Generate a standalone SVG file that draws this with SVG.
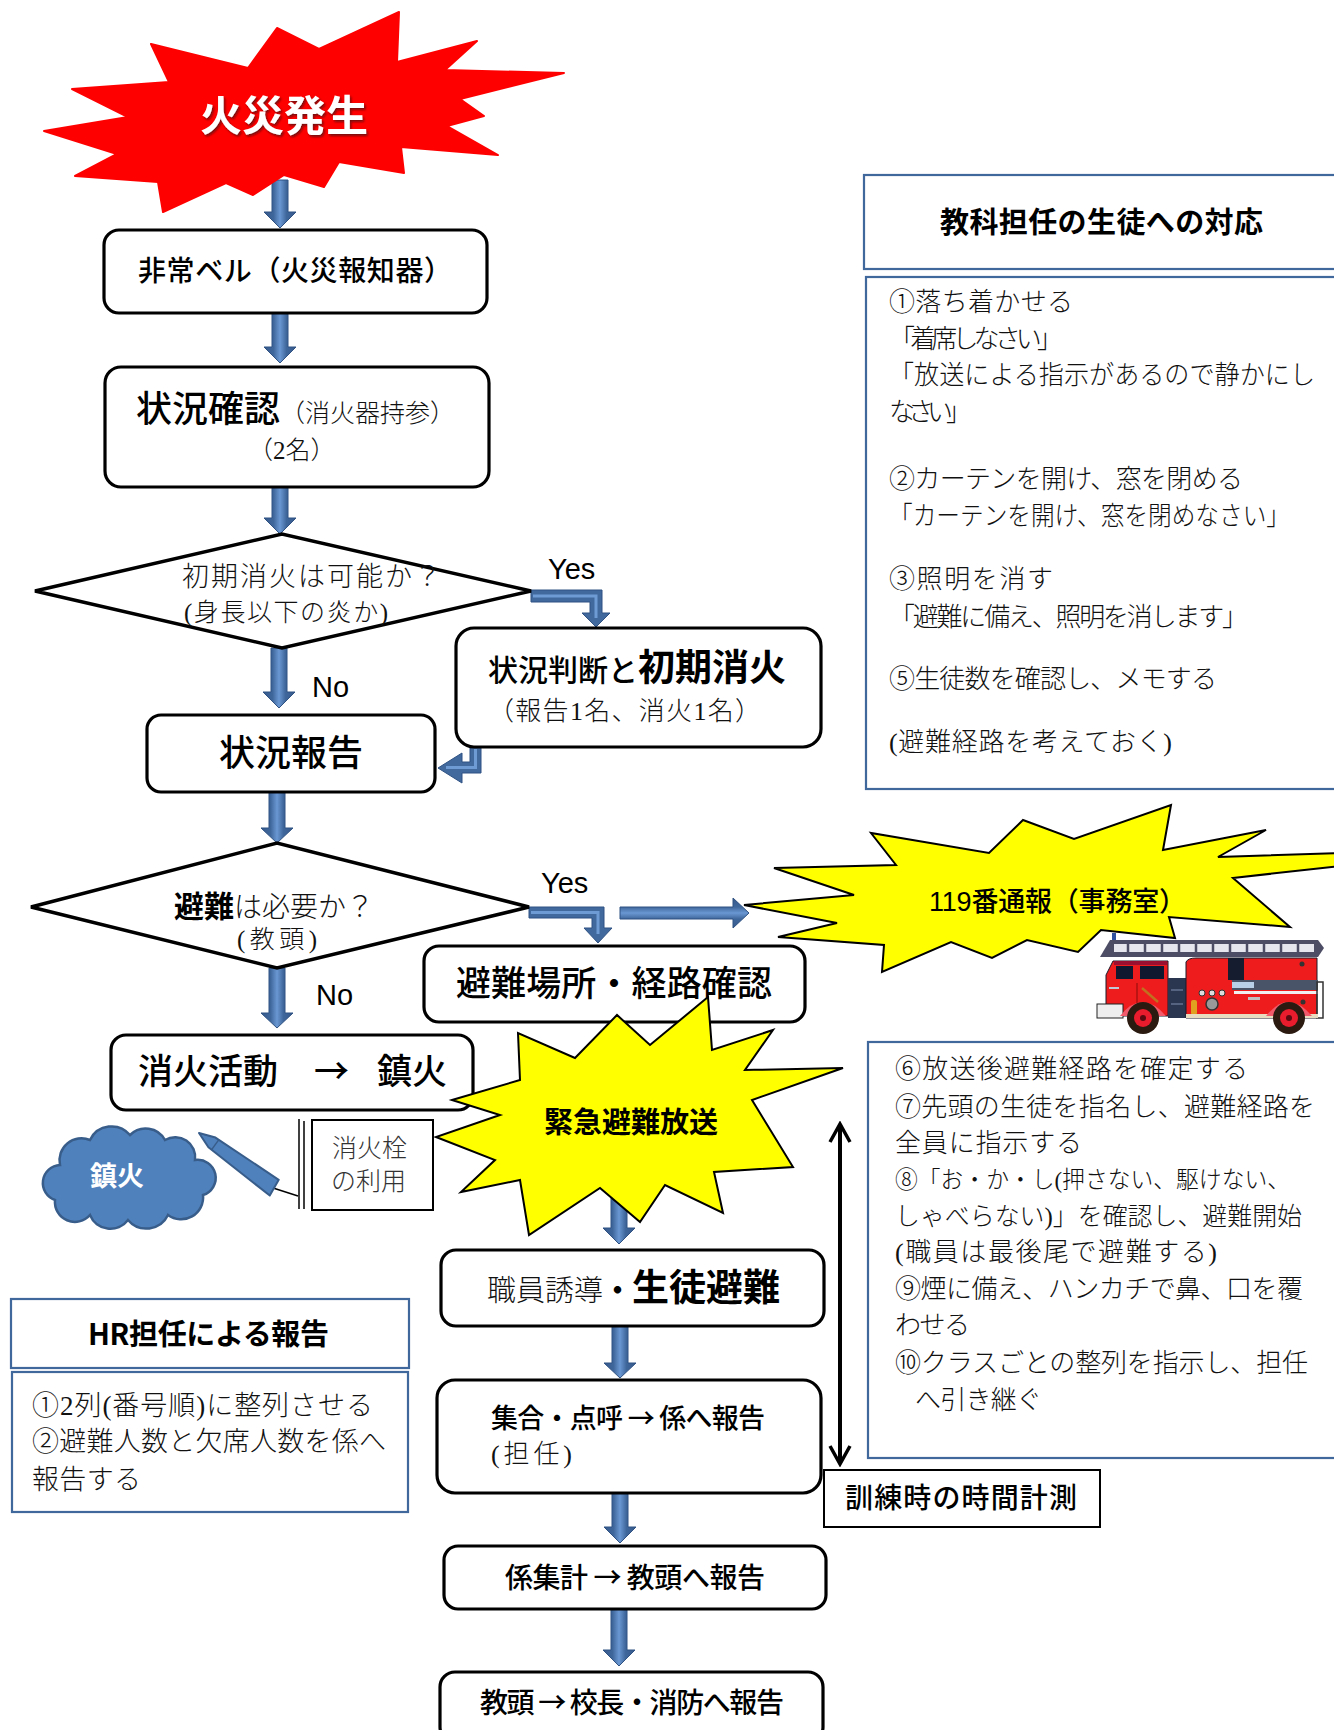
<svg xmlns="http://www.w3.org/2000/svg" width="1334" height="1730" viewBox="0 0 1334 1730">
  <defs>
    <linearGradient id="blk" x1="0" y1="0" x2="1" y2="0">
      <stop offset="0" stop-color="#37598A"/>
      <stop offset="0.3" stop-color="#3F679C"/>
      <stop offset="0.5" stop-color="#6A97D2"/>
      <stop offset="0.7" stop-color="#3F679C"/>
      <stop offset="1" stop-color="#37598A"/>
    </linearGradient>
    <linearGradient id="blkh" x1="0" y1="0" x2="0" y2="1">
      <stop offset="0" stop-color="#37598A"/>
      <stop offset="0.3" stop-color="#3F679C"/>
      <stop offset="0.5" stop-color="#6A97D2"/>
      <stop offset="0.7" stop-color="#3F679C"/>
      <stop offset="1" stop-color="#37598A"/>
    </linearGradient>
    <filter id="shadow" x="-10%" y="-10%" width="130%" height="140%">
      <feDropShadow dx="1.5" dy="2" stdDeviation="1" flood-color="#5a1010" flood-opacity="0.8"/>
    </filter>
    <marker id="vhead" viewBox="0 0 24 24" refX="21" refY="12" markerWidth="24" markerHeight="24" orient="auto-start-reverse" markerUnits="userSpaceOnUse">
      <path d="M3,2 L21,12 L3,22" fill="none" stroke="#000" stroke-width="3.5"/>
    </marker>
  </defs>
  <style>
    .box { fill: #fff; stroke: #000; stroke-width: 3.2; }
    .sq { fill: #fff; stroke: #000; stroke-width: 2; }
    .dia { fill: #fff; stroke: #000; stroke-width: 3.5; stroke-linejoin: miter; }
    .pnl { fill: #fff; stroke: #41689C; stroke-width: 2.2; }
    .ba { fill: url(#blk); stroke: #2F5283; stroke-width: 1; }
    .bah { fill: url(#blkh); stroke: #2F5283; stroke-width: 1; }
    .elb { fill: #41699E; stroke: #2F5283; stroke-width: 1; }
    .stripe { fill: none; stroke: #6F9BD4; stroke-width: 3; }
    .g { font-family: "Noto Sans CJK JP", sans-serif; font-weight: 500; fill: #000; }
    .gb { font-family: "Noto Sans CJK JP", sans-serif; font-weight: 700; fill: #000; }
    .m { font-family: "Liberation Serif", "Noto Sans CJK JP", serif; font-weight: 300; fill: #111; }
    .lat { font-family: "Liberation Sans", Arial, sans-serif; fill: #000; }
    .c { text-anchor: middle; }
  </style>

  <!-- connectors: block arrows and the timing arrow -->
  <g id="connectors">
    <polygon class="ba" points="272,180 288,180 288,212 296,212 280,228 264,212 272,212"/>
    <polygon class="ba" points="272,313 288,313 288,347 296,347 280,363 264,347 272,347"/>
    <polygon class="ba" points="272,487 288,487 288,518 296,518 280,534 264,518 272,518"/>
    <polygon class="ba" points="271,648 287,648 287,692 295,692 279,708 263,692 271,692"/>
    <polygon class="ba" points="269,792 285,792 285,828 293,828 277,843 261,828 269,828"/>
    <polygon class="ba" points="269,968 285,968 285,1013 293,1013 277,1028 261,1013 269,1013"/>
    <polygon class="ba" points="611,1180 627,1180 627,1228 635,1228 619,1244 603,1228 611,1228"/>
    <polygon class="ba" points="612,1326 628,1326 628,1363 636,1363 620,1378 604,1363 612,1363"/>
    <polygon class="ba" points="612,1493 628,1493 628,1527 636,1527 620,1543 604,1527 612,1527"/>
    <polygon class="ba" points="611,1609 627,1609 627,1650 635,1650 619,1666 603,1650 611,1650"/>

    <!-- Yes branch of the first decision -->
    <polygon class="elb" points="531,590 602,590 602,613 610,613 596,627 582,613 590,613 590,602 531,602"/>
    <polyline class="stripe" points="533,596 596,596 596,618"/>
    <!-- back from initial extinguishing to status report -->
    <polygon class="elb" points="470,747 481,747 481,773 462,773 462,783 438,768 462,753 462,762 470,762"/>
    <polyline class="stripe" points="475.5,749 475.5,767.5 446,767.5"/>
    <!-- Yes branch of the evacuation decision -->
    <polygon class="elb" points="529,907 604,907 604,928 612,928 598,943 584,928 592,928 592,918 529,918"/>
    <polyline class="stripe" points="531,912.5 598,912.5 598,934"/>
    <polygon class="bah" points="620,907 733,907 733,898 749,913 733,928 733,919 620,919"/>

    <!-- drill timing span -->
    <line x1="840" y1="1124" x2="840" y2="1464" stroke="#000" stroke-width="4" marker-start="url(#vhead)" marker-end="url(#vhead)"/>
  </g>

  <!-- fire outbreak burst -->
  <g id="fire-start">
    <polygon fill="#FF0000" stroke="#FF0000" stroke-width="2" stroke-linejoin="round" points="399,12 397,62 477,41 445,70 564,73 460,99 484,116 447,126 498,155 401,147 404,173 339,162 324,187 284,175 253,195 226,183 163,212 158,182 75,176 117,154 44,131 128,117 72,89 169,82 151,44 248,68 277,28 319,49"/>
    <text class="gb c" x="284" y="131" font-size="42" font-weight="900" style="fill:#fff" filter="url(#shadow)" textLength="168">火災発生</text>
  </g>

  <g id="alarm">
    <rect class="box" x="104" y="230" width="383" height="83" rx="15"/>
    <text class="g" x="138" y="281" font-size="28" textLength="314">非常ベル（火災報知器）</text>
  </g>

  <g id="check">
    <rect class="box" x="105" y="367" width="384" height="120" rx="16"/>
    <text x="136" y="422"><tspan class="g" font-size="36">状況確認</tspan><tspan class="m" font-size="25">（消火器持参）</tspan></text>
    <text class="m" x="248" y="459" font-size="25">（2名）</text>
  </g>

  <g id="decide-extinguish">
    <polygon class="dia" points="35,591 282,534 531,591 282,648"/>
    <text class="m" x="182" y="586" font-size="27" textLength="259">初期消火は可能か？</text>
    <text class="m" x="184" y="621" font-size="25" textLength="204">(身長以下の炎か)</text>
  </g>
  <text class="lat" x="548" y="579" font-size="29">Yes</text>
  <text class="lat" x="312" y="697" font-size="29">No</text>

  <g id="initial-extinguish">
    <rect class="box" x="456" y="628" width="365" height="119" rx="18"/>
    <text x="488" y="681"><tspan class="g" font-size="30">状況判断と</tspan><tspan class="gb" font-size="37">初期消火</tspan></text>
    <text class="m" x="488" y="720" font-size="26" textLength="273">（報告1名、消火1名）</text>
  </g>

  <g id="report">
    <rect class="box" x="147" y="715" width="288" height="77" rx="14"/>
    <text class="g c" x="291" y="766" font-size="36">状況報告</text>
  </g>

  <g id="decide-evacuate">
    <polygon class="dia" points="31,907 277,843 529,907 277,968"/>
    <text x="174" y="917"><tspan class="gb" font-size="30">避難</tspan><tspan class="m" font-size="28">は必要か？</tspan></text>
    <text class="m" x="237" y="948" font-size="25" textLength="80">(教頭)</text>
  </g>
  <text class="lat" x="541" y="893" font-size="29">Yes</text>
  <text class="lat" x="316" y="1005" font-size="29">No</text>

  <g id="route-check">
    <rect class="box" x="424" y="946" width="381" height="76" rx="15"/>
    <text class="g" x="456" y="996" font-size="35" textLength="316">避難場所・経路確認</text>
  </g>

  <g id="call-119">
    <polygon fill="#FFFF00" stroke="#000" stroke-width="2" points="1023,820 1074,839 1171,805 1163,850 1266,830 1218,857 1340,853 1340,866 1233,878 1290,927 1169,917 1175,938 1101,930 1078,952 1027,940 992,958 951,942 882,972 884,945 778,937 837,923 744,905 854,895 774,868 896,865 871,833 989,853"/>
    <text x="929" y="911" font-size="27" textLength="257"><tspan class="lat">119</tspan><tspan class="g">番通報（事務室）</tspan></text>
  </g>

  <g id="fire-engine">
    <!-- ladder -->
    <rect x="1112" y="933" width="4" height="8" fill="#3050a0"/>
    <polygon points="1100,957 1110,940 1318,940 1324,948 1318,957" fill="#4d4d66"/>
    <rect x="1114" y="944" width="200" height="8" fill="#e6e6ee"/>
    <g stroke="#4d4d66" stroke-width="2.5">
      <line x1="1128" y1="944" x2="1128" y2="952"/><line x1="1145" y1="944" x2="1145" y2="952"/>
      <line x1="1162" y1="944" x2="1162" y2="952"/><line x1="1179" y1="944" x2="1179" y2="952"/>
      <line x1="1196" y1="944" x2="1196" y2="952"/><line x1="1213" y1="944" x2="1213" y2="952"/>
      <line x1="1230" y1="944" x2="1230" y2="952"/><line x1="1247" y1="944" x2="1247" y2="952"/>
      <line x1="1264" y1="944" x2="1264" y2="952"/><line x1="1281" y1="944" x2="1281" y2="952"/>
      <line x1="1298" y1="944" x2="1298" y2="952"/>
    </g>
    <!-- cab -->
    <path d="M1106,1016 L1106,975 L1113,961 L1168,961 L1168,1016 Z" fill="#ee1c1c" stroke="#1b1b2a" stroke-width="1"/>
    <rect x="1114" y="961" width="53" height="4" fill="#9a1030"/>
    <rect x="1116" y="966" width="17" height="13" fill="#101830"/>
    <rect x="1140" y="966" width="24" height="13" fill="#101830"/>
    <line x1="1137" y1="983" x2="1137" y2="1012" stroke="#8a0a0a" stroke-width="1"/>
    <rect x="1109" y="987" width="10" height="2" fill="#c0c8d8"/>
    <line x1="1142" y1="988" x2="1158" y2="1002" stroke="#c07020" stroke-width="2.5"/>
    <!-- pump bay -->
    <rect x="1168" y="978" width="18" height="40" fill="#2a3550"/>
    <line x1="1171" y1="990" x2="1183" y2="990" stroke="#8090b0" stroke-width="1"/>
    <line x1="1171" y1="1004" x2="1183" y2="1004" stroke="#8090b0" stroke-width="1"/>
    <!-- rear body -->
    <path d="M1186,1018 L1186,962 Q1188,958 1196,958 L1317,958 L1317,1018 Z" fill="#ee1c1c" stroke="#1b1b2a" stroke-width="1"/>
    <rect x="1228" y="958" width="16" height="22" fill="#161c30"/>
    <rect x="1232" y="980" width="86" height="10" fill="#4a5468"/>
    <rect x="1232" y="982" width="22" height="6" fill="#b8d0e8"/>
    <rect x="1234" y="991" width="84" height="3" fill="#f0f0f0"/>
    <circle cx="1202" cy="993" r="3" fill="#ddd" stroke="#333" stroke-width="1"/>
    <circle cx="1212" cy="993" r="3" fill="#ddd" stroke="#333" stroke-width="1"/>
    <circle cx="1222" cy="993" r="3" fill="#ddd" stroke="#333" stroke-width="1"/>
    <circle cx="1212" cy="1004" r="6" fill="#999" stroke="#333" stroke-width="1.5"/>
    <rect x="1191" y="1000" width="6" height="15" rx="2" fill="#e0a020"/>
    <rect x="1248" y="997" width="12" height="3" fill="#c0c0c0"/>
    <circle cx="1302" cy="964" r="2.5" fill="#333"/>
    <circle cx="1303" cy="1002" r="2.5" fill="#333"/>
    <rect x="1317" y="982" width="6" height="36" fill="none" stroke="#333" stroke-width="1.5"/>
    <!-- chassis, bumper, wheels -->
    <rect x="1186" y="1014" width="132" height="4" fill="#e8dcc0"/>
    <rect x="1097" y="1004" width="26" height="14" fill="#eeeeee" stroke="#222" stroke-width="1"/>
    <path d="M1120,1016 Q1142,988 1166,1016 Z" fill="#f05a6a"/>
    <path d="M1266,1016 Q1288,988 1312,1016 Z" fill="#f05a6a"/>
    <circle cx="1143" cy="1018" r="16" fill="#2a1a10"/>
    <circle cx="1143" cy="1018" r="9" fill="#e81c2c"/>
    <circle cx="1143" cy="1018" r="3" fill="#5a0a10"/>
    <circle cx="1289" cy="1018" r="16" fill="#2a1a10"/>
    <circle cx="1289" cy="1018" r="9" fill="#e81c2c"/>
    <circle cx="1289" cy="1018" r="3" fill="#5a0a10"/>
  </g>

  <g id="teacher-response">
    <rect class="pnl" x="864" y="175" width="480" height="94"/>
    <text class="gb" x="940" y="233" font-size="29" textLength="323">教科担任の生徒への対応</text>
    <rect class="pnl" x="866" y="277" width="478" height="512"/>
    <g class="m" font-size="26">
      <text x="889" y="311" textLength="184">①落ち着かせる</text>
      <text x="889" y="348" textLength="174">「着席しなさい」</text>
      <text x="889" y="384" textLength="426" lengthAdjust="spacingAndGlyphs">「放送による指示があるので静かにし</text>
      <text x="889" y="421" textLength="83">なさい」</text>
      <text x="889" y="488" textLength="354">②カーテンを開け、窓を閉める</text>
      <text x="889" y="525" textLength="401" lengthAdjust="spacingAndGlyphs">「カーテンを開け、窓を閉めなさい」</text>
      <text x="889" y="588" textLength="164">③照明を消す</text>
      <text x="889" y="626" textLength="359">「避難に備え、照明を消します」</text>
      <text x="889" y="688" textLength="328">⑤生徒数を確認し、メモする</text>
      <text x="889" y="751" textLength="283">(避難経路を考えておく)</text>
    </g>
  </g>

  <g id="extinguish">
    <rect class="box" x="111" y="1035" width="362" height="75" rx="15"/>
    <text class="g" y="1084" font-size="35"><tspan x="138">消火活動</tspan><tspan x="314">→</tspan><tspan x="377">鎮火</tspan></text>
  </g>

  <g id="hydrant">
    <rect class="sq" x="312" y="1120" width="121" height="90"/>
    <text class="m" x="332" y="1157" font-size="25" style="fill:#333">消火栓</text>
    <text class="m" x="331" y="1190" font-size="25" style="fill:#333">の利用</text>
    <!-- hose and nozzle -->
    <line x1="299" y1="1119" x2="299" y2="1209" stroke="#000" stroke-width="1.5"/>
    <line x1="304" y1="1121" x2="304" y2="1209" stroke="#000" stroke-width="1.5"/>
    <line x1="270" y1="1187" x2="298" y2="1196" stroke="#000" stroke-width="1.5"/>
    <g transform="translate(199,1133) rotate(36)">
      <polygon points="0,0 16,-6 92,-9 94,9 16,6" fill="#4F81BD" stroke="#385D8A" stroke-width="2" stroke-linejoin="round"/>
      <line x1="20" y1="-6" x2="20" y2="6" stroke="#385D8A" stroke-width="1.5"/>
    </g>
  </g>

  <g id="extinguished">
    <path d="M60,1165 a22,22 0 0 1 30,-25 a24,24 0 0 1 40,-5 a22,22 0 0 1 35,5 a20,20 0 0 1 30,20 a18,18 0 0 1 8,35 a22,22 0 0 1 -35,20 a24,24 0 0 1 -40,5 a22,22 0 0 1 -38,-5 a20,20 0 0 1 -35,-15 a18,18 0 0 1 5,-35 Z" fill="#4F81BD" stroke="#385D8A" stroke-width="2.5"/>
    <text class="gb c" x="117" y="1186" font-size="27" style="fill:#fff">鎮火</text>
  </g>

  <g id="broadcast">
    <polygon fill="#FFFF00" stroke="#000" stroke-width="2" points="452,1100 520,1080 518,1033 575,1058 617,1015 650,1045 708,997 712,1050 773,1030 745,1070 843,1068 752,1100 793,1167 714,1172 723,1213 665,1185 640,1222 600,1188 529,1235 520,1180 461,1192 495,1160 436,1137 500,1115"/>
    <text class="gb c" x="631" y="1133" font-size="29">緊急避難放送</text>
  </g>

  <g id="guide-evacuate">
    <rect class="box" x="441" y="1250" width="383" height="76" rx="15"/>
    <text x="487" y="1301"><tspan class="m" font-size="29">職員誘導</tspan><tspan class="gb" font-size="29">・</tspan><tspan class="gb" font-size="37">生徒避難</tspan></text>
  </g>

  <g id="roll-call">
    <rect class="box" x="437" y="1380" width="384" height="113" rx="18"/>
    <text class="g" x="491" y="1428" font-size="27" textLength="274">集合・点呼 → 係へ報告</text>
    <text class="m" x="491" y="1463" font-size="26" textLength="81">(担任)</text>
  </g>

  <g id="tally">
    <rect class="box" x="444" y="1546" width="382" height="63" rx="14"/>
    <text class="g" x="505" y="1588" font-size="28" textLength="260">係集計 → 教頭へ報告</text>
  </g>

  <g id="final-report">
    <rect class="box" x="440" y="1672" width="383" height="70" rx="15"/>
    <text class="g" x="480" y="1713" font-size="28" textLength="304">教頭 → 校長・消防へ報告</text>
  </g>

  <g id="class-guidance">
    <rect class="pnl" x="868" y="1042" width="476" height="416"/>
    <g class="m" font-size="26">
      <text x="895" y="1078" textLength="353">⑥放送後避難経路を確定する</text>
      <text x="895" y="1116" textLength="420">⑦先頭の生徒を指名し、避難経路を</text>
      <text x="895" y="1152" textLength="187">全員に指示する</text>
      <text x="895" y="1188" font-size="24" textLength="395" lengthAdjust="spacingAndGlyphs">⑧「お・か・し(押さない、駆けない、</text>
      <text x="895" y="1225" font-size="25" textLength="407" lengthAdjust="spacingAndGlyphs">しゃべらない)」を確認し、避難開始</text>
      <text x="895" y="1261" textLength="322">(職員は最後尾で避難する)</text>
      <text x="895" y="1298" textLength="408">⑨煙に備え、ハンカチで鼻、口を覆</text>
      <text x="895" y="1334" textLength="75">わせる</text>
      <text x="895" y="1372" textLength="413">⑩クラスごとの整列を指示し、担任</text>
      <text x="915" y="1409" textLength="127">へ引き継ぐ</text>
    </g>
  </g>

  <g id="drill-timing">
    <rect class="sq" x="824" y="1470" width="276" height="57"/>
    <text class="g" x="845" y="1508" font-size="28" textLength="232">訓練時の時間計測</text>
  </g>

  <g id="hr-report">
    <rect class="pnl" x="11" y="1299" width="398" height="69"/>
    <text class="gb" x="88" y="1345" font-size="29" textLength="241">HR担任による報告</text>
    <rect class="pnl" x="12" y="1372" width="396" height="140"/>
    <g class="m" font-size="27">
      <text x="32" y="1415" textLength="341">①2列(番号順)に整列させる</text>
      <text x="32" y="1451" textLength="354">②避難人数と欠席人数を係へ</text>
      <text x="32" y="1489" textLength="109">報告する</text>
    </g>
  </g>
</svg>
